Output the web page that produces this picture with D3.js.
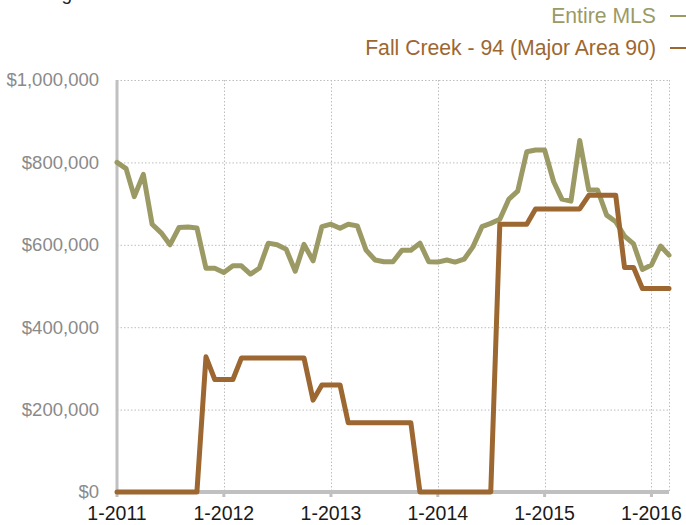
<!DOCTYPE html>
<html>
<head>
<meta charset="utf-8">
<script src="https://cdnjs.cloudflare.com/ajax/libs/d3/7.8.5/d3.min.js"></script>
<style>
  body { margin: 0; background: #fff; }
  svg { display: block; font-family: "Liberation Sans", Arial, Helvetica, sans-serif; }
  .grid line { stroke: #bdbdbd; stroke-width: 1; stroke-dasharray: 1.5 2; }
  .line { fill: none; stroke-width: 5; stroke-linejoin: round; stroke-linecap: round; }
</style>
</head>
<body>
<div id="graph"></div>
<script>
// Chart data: monthly values, 1-2011 to 3-2016
var startMonth = "2011-01";
var seriesNames = [ "Entire MLS", "Fall Creek - 94 (Major Area 90)" ];
var entireMLS = [
  800000, 785000, 717000, 771000, 650000, 629000, 600000, 642000, 643000, 641000, 543000, 543000,
  533000, 549000, 549000, 529000, 543000, 604000, 600000, 589000, 536000, 601000, 561000, 644000,
  650000, 640000, 650000, 646000, 587000, 563000, 559000, 559000, 587000, 587000, 604000, 559000,
  558000, 563000, 558000, 565000, 595000, 644000, 652000, 662000, 711000, 730000, 826000, 830000,
  830000, 753000, 711000, 706000, 853000, 733000, 733000, 672000, 656000, 621000, 602000, 540000,
  551000, 597000, 575000
];
var fallCreek = [
  0, 0, 0, 0, 0, 0, 0, 0, 0, 0, 328000, 273000,
  273000, 273000, 325000, 325000, 325000, 325000, 325000, 325000, 325000, 325000, 223000, 260000,
  260000, 260000, 168000, 168000, 168000, 168000, 168000, 168000, 168000, 168000, 0, 0,
  0, 0, 0, 0, 0, 0, 0, 650000, 650000, 650000, 650000, 687000,
  687000, 687000, 687000, 687000, 687000, 720000, 720000, 720000, 720000, 545000, 545000, 494000,
  494000, 494000, 494000
];
var yTicks = [ 0, 200000, 400000, 600000, 800000, 1000000 ];
var xTickYears = [ 2011, 2012, 2013, 2014, 2015, 2016 ];
var colors = [ "#9c9a64", "#9c6731" ];

var width = 686, height = 525;
var margin = { top: 80, right: 16, bottom: 33, left: 117 };

var parseMonth = d3.timeParse( "%Y-%m" );
var start = parseMonth( startMonth );

// Build dated rows for each series
function toRows( values ){
  return values.map( function( v, i ){
    return { date: d3.timeMonth.offset( start, i ), value: v };
  } );
}
var series = [ toRows( entireMLS ), toRows( fallCreek ) ];

var x = d3.scaleTime()
    .domain( d3.extent( series[0], function( d ){ return d.date; } ) )
    .range( [ margin.left, width - margin.right - 1 ] );
var y = d3.scaleLinear()
    .domain( [ 0, 1000000 ] )
    .range( [ height - margin.bottom, margin.top ] );

var svg = d3.select( "#graph" ).append( "svg" )
    .attr( "width", width )
    .attr( "height", height );

// Title (cropped at the top of the picture, as in the source)
svg.append( "text" )
    .attr( "x", 14 )
    .attr( "y", 0 )
    .attr( "font-size", 19 )
    .attr( "fill", "#222" )
    .text( "Rolling 12 Month Calculation" );

var x0 = x.range()[0], x1 = x.range()[1],
    y0 = y.range()[0], y1 = y.range()[1];

// Grid lines
var grid = svg.append( "g" ).attr( "class", "grid" );
grid.selectAll( "line.h" )
    .data( yTicks.slice( 1 ) )
  .enter().append( "line" )
    .attr( "x1", x0 ).attr( "x2", x1 )
    .attr( "y1", function( d ){ return y( d ) + 0.5; } )
    .attr( "y2", function( d ){ return y( d ) + 0.5; } );
var xTicks = xTickYears.map( function( yr ){ return new Date( yr, 0, 1 ); } );
grid.selectAll( "line.v" )
    .data( xTicks.slice( 1 ).concat( [ x.domain()[1] ] ) )
  .enter().append( "line" )
    .attr( "x1", function( d ){ return Math.round( x( d ) ) + 0.5; } )
    .attr( "x2", function( d ){ return Math.round( x( d ) ) + 0.5; } )
    .attr( "y1", y1 ).attr( "y2", y0 );

// Axis lines
svg.append( "line" )
    .attr( "x1", x0 ).attr( "x2", x0 )
    .attr( "y1", y1 ).attr( "y2", y0 + 2 )
    .attr( "stroke", "#c0c0c0" ).attr( "stroke-width", 3 );
svg.append( "line" )
    .attr( "x1", x0 - 1.5 ).attr( "x2", x1 )
    .attr( "y1", y0 ).attr( "y2", y0 )
    .attr( "stroke", "#c0c0c0" ).attr( "stroke-width", 4 );

// Tick marks under the x axis
svg.selectAll( "rect.tick" )
    .data( xTicks )
  .enter().append( "rect" )
    .attr( "x", function( d ){ return x( d ) - 1.5; } )
    .attr( "y", y0 + 2 )
    .attr( "width", 3 ).attr( "height", 3 )
    .attr( "fill", "#c0c0c0" );

// Y labels
svg.selectAll( "text.ylab" )
    .data( yTicks )
  .enter().append( "text" )
    .attr( "x", 99 )
    .attr( "y", function( d ){ return y( d ); } )
    .attr( "dy", "0.35em" )
    .attr( "text-anchor", "end" )
    .attr( "font-size", 18.5 )
    .attr( "fill", "#8a8a8a" )
    .text( function( d ){ return "$" + d3.format( "," )( d ); } );

// X labels
svg.selectAll( "text.xlab" )
    .data( xTicks )
  .enter().append( "text" )
    .attr( "x", function( d ){ return x( d ); } )
    .attr( "y", 520 )
    .attr( "text-anchor", "middle" )
    .attr( "font-size", 19.5 )
    .attr( "fill", "#1a1a1a" )
    .text( function( d ){ return "1-" + d.getFullYear(); } );

// Lines
var valueline = d3.line()
    .x( function( d ){ return x( d.date ); } )
    .y( function( d ){ return y( d.value ); } );

svg.selectAll( "path.line" )
    .data( series )
  .enter().append( "path" )
    .attr( "class", "line" )
    .attr( "stroke", function( d, i ){ return colors[i]; } )
    .attr( "d", valueline );

// Legend (top right)
var legend = svg.selectAll( "g.legend" )
    .data( seriesNames )
  .enter().append( "g" )
    .attr( "transform", function( d, i ){ return "translate(0," + ( 23 + i * 32 ) + ")"; } );
legend.append( "text" )
    .attr( "x", 656 )
    .attr( "text-anchor", "end" )
    .attr( "font-size", 21.2 )
    .attr( "fill", function( d, i ){ return colors[i]; } )
    .text( function( d ){ return d; } );
legend.append( "line" )
    .attr( "x1", 670 ).attr( "x2", 690 )
    .attr( "y1", -7 ).attr( "y2", -7 )
    .attr( "stroke", function( d, i ){ return colors[i]; } )
    .attr( "stroke-width", 2 );
</script>
</body>
</html>
